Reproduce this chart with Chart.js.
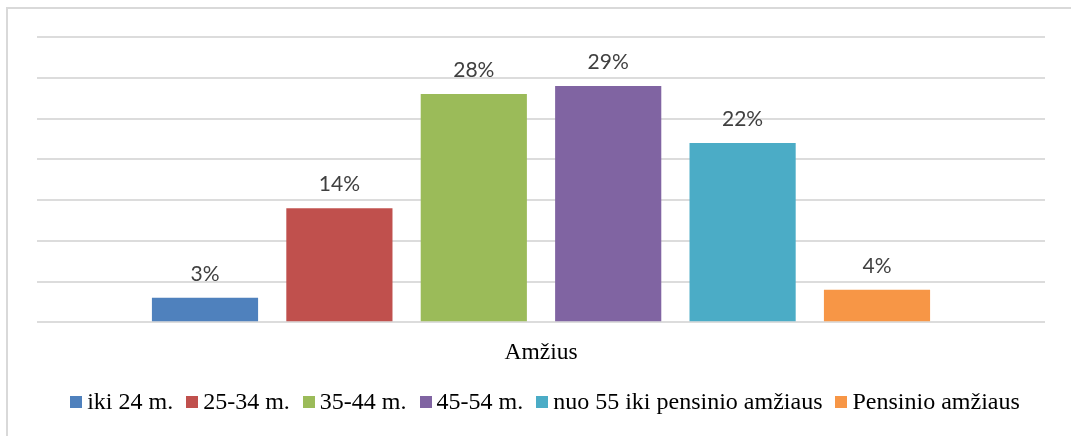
<!DOCTYPE html>
<html lang="lt">
<head>
<meta charset="utf-8">
<title>Amžius</title>
<script src="https://cdn.jsdelivr.net/npm/chart.js@4/dist/chart.umd.min.js"></script>
<style>
  html, body { margin: 0; padding: 0; background: #fff; overflow: hidden; }
  #frame {
    position: absolute; left: 6px; top: 7px; width: 1200px; height: 600px;
    border-left: 2px solid #d9d9d9; border-top: 2px solid #d9d9d9;
  }
  #wrap { position: absolute; left: 0; top: 0; width: 1071px; height: 436px; }
</style>
</head>
<body>
<div id="frame"></div>
<div id="wrap"><canvas id="chart"></canvas></div>
<script>
// Age groups and their shares (%)
const categories = ['Amžius'];
const groups = ['iki 24 m.', '25-34 m.', '35-44 m.', '45-54 m.', 'nuo 55 iki pensinio amžiaus', 'Pensinio amžiaus'];
const shares = [3, 14, 28, 29, 22, 4];
const colors = ['#4f81bd', '#c0504d', '#9bbb59', '#8064a2', '#4bacc6', '#f79646'];
const yTicks = [0, 5, 10, 15, 20, 25, 30, 35];

const serif = '"Liberation Serif", "Times New Roman", serif';

// Percent labels above each bar
const valueLabels = {
  id: 'valueLabels',
  afterDatasetsDraw(chart) {
    const ctx = chart.ctx;
    ctx.save();
    ctx.font = '21px Lato, "Open Sans", sans-serif';
    ctx.fillStyle = '#404040';
    ctx.textAlign = 'center';
    ctx.textBaseline = 'alphabetic';
    chart.data.datasets.forEach((ds, i) => {
      const meta = chart.getDatasetMeta(i);
      meta.data.forEach((bar, j) => {
        ctx.fillText(ds.data[j] + '%', bar.x, bar.y - 17);
      });
    });
    ctx.restore();
  }
};

// Legend row with tight box/text spacing, drawn inside the space the legend reserves
const legendRow = {
  id: 'legendRow',
  afterDraw(chart) {
    const lg = chart.legend;
    if (!lg || !lg.legendHitBoxes || !lg.legendHitBoxes.length) return;
    const ctx = chart.ctx;
    const box = 12, gapText = 5, gapItem = 13;
    ctx.save();
    ctx.font = '24px ' + serif;
    const items = chart.data.datasets.map(ds => ({
      text: ds.label, color: ds.backgroundColor, w: ctx.measureText(ds.label).width
    }));
    const total = items.reduce((s, it) => s + box + gapText + it.w, 0) + gapItem * (items.length - 1);
    const hb = lg.legendHitBoxes[0];
    const cy = hb.top + hb.height / 2;
    let x = (lg.left + lg.right) / 2 + 4 - total / 2;
    ctx.textBaseline = 'middle';
    ctx.textAlign = 'left';
    items.forEach(it => {
      ctx.fillStyle = it.color;
      ctx.fillRect(Math.round(x), Math.round(cy - box / 2), box, box);
      x += box + gapText;
      ctx.fillStyle = '#000';
      ctx.fillText(it.text, x, cy + 1);
      x += it.w + gapItem;
    });
    ctx.restore();
  }
};

const clear = 'rgba(0,0,0,0)';

new Chart(document.getElementById('chart'), {
  type: 'bar',
  data: {
    labels: categories,
    datasets: groups.map((g, i) => ({
      label: g,
      data: [shares[i]],
      backgroundColor: colors[i],
      borderWidth: 0,
      categoryPercentage: 0.8,
      barPercentage: 0.79
    }))
  },
  options: {
    responsive: true,
    maintainAspectRatio: false,
    animation: false,
    devicePixelRatio: 1,
    layout: { padding: { left: 37, right: 26, top: 37, bottom: 12 } },
    scales: {
      x: {
        grid: { display: false },
        border: { display: false },
        ticks: { display: false },
        title: {
          display: true,
          text: 'Amžius',
          color: '#000',
          font: { family: serif, size: 23.5 },
          padding: { top: 8.5, bottom: 19 }
        }
      },
      y: {
        min: yTicks[0],
        max: yTicks[yTicks.length - 1],
        afterBuildTicks(scale) { scale.ticks = yTicks.map(v => ({ value: v })); },
        ticks: { display: false },
        border: { display: false },
        grid: { color: '#dcdcdc', lineWidth: 2, drawTicks: false }
      }
    },
    plugins: {
      legend: {
        position: 'bottom',
        labels: {
          boxWidth: 12,
          boxHeight: 12,
          padding: 4,
          color: clear,
          font: { family: serif, size: 24 },
          generateLabels(chart) {
            return Chart.defaults.plugins.legend.labels.generateLabels(chart).map(l => ({
              ...l, fillStyle: clear, strokeStyle: clear, fontColor: clear, lineWidth: 0
            }));
          }
        }
      },
      tooltip: { enabled: false }
    }
  },
  plugins: [valueLabels, legendRow]
});
</script>
</body>
</html>
